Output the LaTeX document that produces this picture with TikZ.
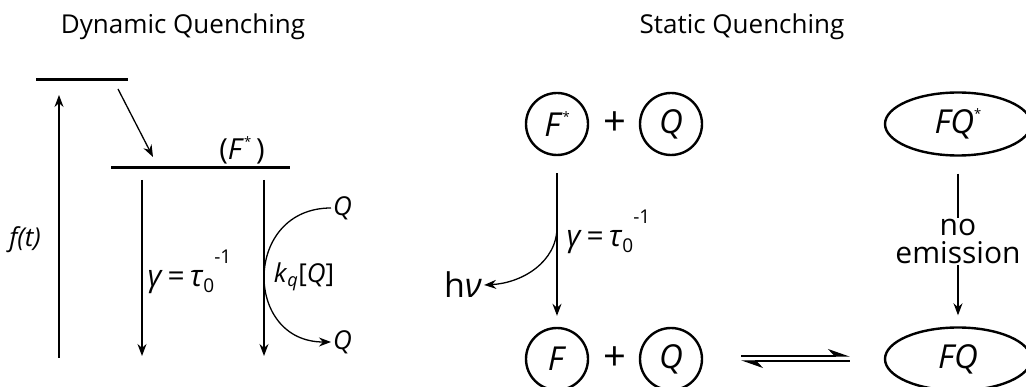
\documentclass[tikz,border=0pt]{standalone}
\usepackage{fontspec}
\setmainfont{Open Sans}
\usetikzlibrary{arrows.meta,shapes.geometric}

\newcommand{\sym}[1]{\textit{#1}}
\newcommand{\smallfig}[1]{{\fontsize{19}{19}\selectfont #1}}
\newcommand{\tinystar}{\raisebox{0.85ex}{\fontsize{13}{13}\selectfont *}}
\newcommand{\ratelabel}{\sym{γ}\,=\,\sym{τ}\raisebox{-.35ex}{\smallfig{0}}\raisebox{1.4ex}{\smallfig{-1}}}

\begin{document}
\begin{tikzpicture}[x=1pt,y=-1pt,font=\fontsize{26}{30}\selectfont,
  level/.style={line width=3pt},
  arr/.style={line width=1.3pt,-{Stealth[length=12pt,width=9pt]}},
  harp/.style={line width=1.3pt,-{Stealth[left,length=20pt,width=14pt]}},
  mol/.style={circle,draw,line width=2.4pt,minimum size=62pt,inner sep=0pt,
    font=\fontsize{33}{36}\selectfont},
  pair/.style={ellipse,draw,line width=2.4pt,minimum width=146pt,minimum height=63pt,
    inner sep=0pt,font=\fontsize{33}{36}\selectfont},
  biglabel/.style={font=\fontsize{30}{28}\selectfont}]
  \useasboundingbox (0,0) rectangle (1026,387);

  \node (dyntitle) at (183,27) {Dynamic Quenching};
  \node (stattitle) at (742,27) {Static Quenching};

  % dynamic quenching: energy levels
  \coordinate (upper0) at (36,80);
  \coordinate (upper1) at (128,80);
  \coordinate (lower0) at (111,168);
  \coordinate (lower1) at (290,168);
  \draw[level] (upper0) -- (upper1);
  \draw[level] (lower0) -- (lower1);
  \node[font=\fontsize{29}{30}\selectfont] (fexc) at (242,150) {(\sym{F}\tinystar\,)};

  \coordinate (relax0) at (118,89);
  \coordinate (relax1) at (153,157);
  \draw[arr] (relax0) -- (relax1);

  \coordinate (pump0) at (59,358);
  \coordinate (pump1) at (59,95);
  \draw[arr] (pump0) -- (pump1);
  \node (pumplabel) at (25,240) {\sym{f(t)}};

  \coordinate (decay0) at (142,180);
  \coordinate (decay1) at (142,356);
  \draw[arr] (decay0) -- (decay1);
  \node[biglabel,anchor=west] (ratedyn) at (144,272) {\ratelabel};

  \coordinate (quench0) at (264,180);
  \coordinate (quench1) at (264,356);
  \draw[arr] (quench0) -- (quench1);
  \node[anchor=west,inner sep=2pt] (qin) at (331,208) {\sym{Q}};
  \node[anchor=west,inner sep=2pt] (qout) at (331,342) {\sym{Q}};
  \draw[arr] (qin.west) .. controls +(-88,0) and +(-88,0) .. (qout.west);
  \node (kqlabel) at (304,277) {\sym{k}\textsubscript{\sym{q}}[\sym{Q}]};

  % static quenching
  \node[mol] (fstar) at (557,124) {\sym{F}\tinystar};
  \node[font=\fontsize{40}{40}\selectfont] (plustop) at (615,124) {+};
  \node[mol] (qtop) at (671,124) {\sym{Q}};
  \node[pair] (fqstar) at (958,124) {\sym{FQ}\tinystar};

  \node[mol] (fground) at (557,359) {\sym{F}};
  \node[font=\fontsize{40}{40}\selectfont] (plusbot) at (615,359) {+};
  \node[mol] (qbot) at (671,359) {\sym{Q}};
  \node[pair] (fq) at (958,359) {\sym{FQ}};

  \draw[arr,shorten <=17pt,shorten >=11pt] (fstar) -- (fground);
  \node[biglabel,anchor=west] (ratestat) at (563,232) {\ratelabel};
  \coordinate (emit) at (557,227);
  \node[font=\fontsize{34}{34}\selectfont,inner sep=2pt] (hnu) at (463,285) {h\sym{ν}};
  \draw[arr] (emit) .. controls +(0,35) and +(38,-2) .. (hnu.east);

  \draw[arr,shorten <=17pt,shorten >=11pt] (fqstar) -- node[biglabel,fill=white,align=center,inner sep=1pt] (noemit) {no\\emission} (fq);

  \draw[harp] ([xshift=38pt,yshift=3pt]qbot.east) -- ([xshift=-34pt,yshift=3pt]fq.west);
  \draw[harp] ([xshift=-34pt,yshift=-2pt]fq.west) -- ([xshift=38pt,yshift=-2pt]qbot.east);
\end{tikzpicture}
\end{document}
